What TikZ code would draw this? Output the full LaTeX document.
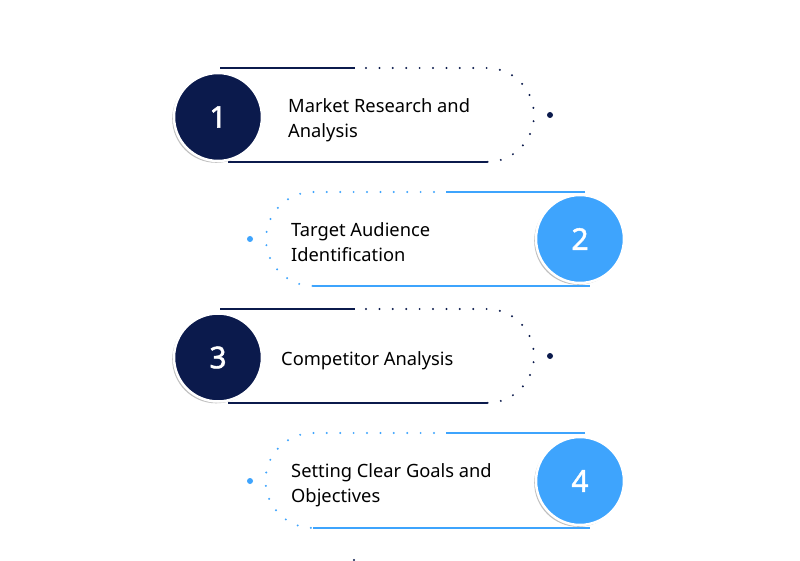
\documentclass[tikz,border=0pt]{standalone}
\usepackage{fontspec}
\setmainfont{Noto Sans}
\newfontfamily\digitfont[FakeBold=1.6]{Noto Sans}
\usetikzlibrary{shadows}
\definecolor{navy}{HTML}{0B1A4C}
\definecolor{sky}{HTML}{3EA4FD}
\tikzset{
  numcirc/.style={circle, minimum size=88pt, inner sep=0pt, draw=white, line width=2.5pt,
    text=white, font=\digitfont\fontsize{30}{30}\selectfont,
    drop shadow={shadow xshift=-1.8pt, shadow yshift=-1.8pt, fill=black!25, opacity=1}},
  darkcirc/.style={numcirc, fill=navy},
  lightcirc/.style={numcirc, fill=sky},
  lbl/.style={anchor=west, align=left, inner sep=0pt, text=black, font=\fontsize{18.3}{25}\selectfont},
  enddot/.style={circle, inner sep=0pt, minimum size=6pt},
  solidln/.style={line width=2pt},
  dotln/.style={line width=2.2pt, line cap=round, dash pattern=on 0pt off 13.4pt},
}
\begin{document}
\begin{tikzpicture}[x=1pt,y=-1pt]
\useasboundingbox[fill=white] (0,0) rectangle (800,561);

% ---------- Step 1 ----------
\coordinate (s1a) at (220,68);
\coordinate (s1b) at (355,68);
\coordinate (s1c) at (366,68);
\coordinate (s1d) at (487,68);
\coordinate (s1e) at (487,162);
\coordinate (s1f) at (228,162);
\draw[solidln, navy] (s1a) -- (s1b);
\draw[dotln, navy] (s1c) -- (s1d) arc[start angle=90, end angle=-90, radius=47pt];
\draw[solidln, navy] (s1e) -- (s1f);
\node[enddot, fill=navy] (d1) at (550,115) {};
\node[darkcirc] (c1) at (218,117) {1};
\node[lbl] (t1) at (288,120) {Market Research and\\Analysis};

% ---------- Step 2 ----------
\coordinate (s2a) at (585,192);
\coordinate (s2b) at (446,192);
\coordinate (s2c) at (434,192);
\coordinate (s2d) at (313,192);
\coordinate (s2e) at (313,286);
\coordinate (s2f) at (590,286);
\draw[solidln, sky] (s2a) -- (s2b);
\draw[dotln, sky] (s2c) -- (s2d) arc[start angle=90, end angle=270, radius=47pt];
\draw[solidln, sky] (s2e) -- (s2f);
\node[enddot, fill=sky] (d2) at (250,239) {};
\node[lightcirc] (c2) at (580,239) {2};
\node[lbl] (t2) at (291,242.5) {Target Audience\\Identification};

% ---------- Step 3 ----------
\coordinate (s3a) at (220,309);
\coordinate (s3b) at (355,309);
\coordinate (s3c) at (366,309);
\coordinate (s3d) at (487,309);
\coordinate (s3e) at (487,403);
\coordinate (s3f) at (228,403);
\draw[solidln, navy] (s3a) -- (s3b);
\draw[dotln, navy] (s3c) -- (s3d) arc[start angle=90, end angle=-90, radius=47pt];
\draw[solidln, navy] (s3e) -- (s3f);
\node[enddot, fill=navy] (d3) at (550,356) {};
\node[darkcirc] (c3) at (218,357.5) {3};
\node[lbl] (t3) at (281,361) {Competitor Analysis};

% ---------- Step 4 ----------
\coordinate (s4a) at (585,433);
\coordinate (s4b) at (446,433);
\coordinate (s4c) at (434,433);
\coordinate (s4d) at (313,433);
\coordinate (s4e) at (313,528);
\coordinate (s4f) at (590,528);
\draw[solidln, sky] (s4a) -- (s4b);
\draw[dotln, sky] (s4c) -- (s4d) arc[start angle=90, end angle=270, radius=47.5pt];
\draw[solidln, sky] (s4e) -- (s4f);
\node[enddot, fill=sky] (d4) at (250,481) {};
\node[lightcirc] (c4) at (580,481) {4};
\node[lbl] (t4) at (291,485) {Setting Clear Goals and\\Objectives};

% tiny mark at the bottom edge
\node[circle, inner sep=0pt, minimum size=2.4pt, fill=navy] (d5) at (354,560) {};
\end{tikzpicture}
\end{document}
